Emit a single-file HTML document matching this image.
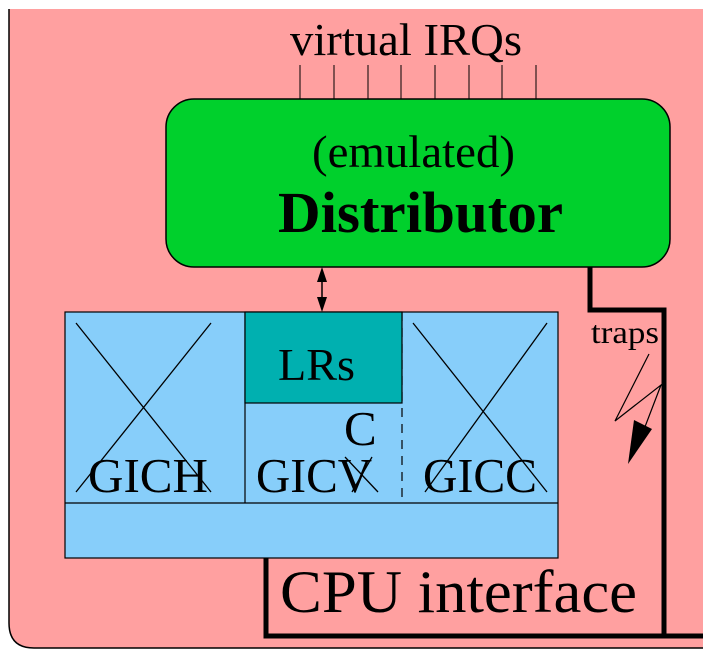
<!DOCTYPE html>
<html><head><meta charset="utf-8"><style>
html,body{margin:0;padding:0;background:#fff;}
svg{display:block;}
text{font-family:"Liberation Serif",serif;fill:#000;}
</style></head><body>
<svg width="712" height="660" viewBox="0 0 712 660" xmlns="http://www.w3.org/2000/svg">
<path d="M9,9 H703 V648 H34 Q9,648 9,623 Z" fill="#ffa0a0"/>
<path d="M9,9 V623 Q9,648 34,648 H703" fill="none" stroke="#000" stroke-width="1.5"/>
<g stroke="#000" stroke-width="1">
<line x1="300" y1="65" x2="300" y2="99"/><line x1="334" y1="65" x2="334" y2="99"/>
<line x1="368" y1="65" x2="368" y2="99"/><line x1="401" y1="65" x2="401" y2="99"/>
<line x1="435" y1="65" x2="435" y2="99"/><line x1="469" y1="65" x2="469" y2="99"/>
<line x1="502" y1="65" x2="502" y2="99"/><line x1="536" y1="65" x2="536" y2="99"/>
</g>
<text x="290" y="55" font-size="46" textLength="232" lengthAdjust="spacingAndGlyphs">virtual IRQs</text>
<rect x="166" y="99" width="504" height="168" rx="28" fill="#00d02c" stroke="#000" stroke-width="1.5"/>
<text x="312" y="167" font-size="46" textLength="203" lengthAdjust="spacingAndGlyphs">(emulated)</text>
<text x="278" y="232" font-size="58" font-weight="bold" textLength="285" lengthAdjust="spacingAndGlyphs">Distributor</text>
<path d="M590,267 V310 H664 V636 H703" fill="none" stroke="#000" stroke-width="5"/>
<path d="M266,558 V636 H666" fill="none" stroke="#000" stroke-width="5"/>
<text x="280" y="612" font-size="60" textLength="357" lengthAdjust="spacingAndGlyphs">CPU interface</text>
<text x="591" y="343" font-size="32" textLength="68" lengthAdjust="spacingAndGlyphs">traps</text>
<path d="M649,354 L615,421 L661,385 L643,432" fill="none" stroke="#000" stroke-width="1.2"/>
<path d="M628,464 L634,420 L652,429 Z" fill="#000"/>
<line x1="322" y1="278" x2="322" y2="302" stroke="#000" stroke-width="1.5"/>
<path d="M322,267 L317,282 L327,282 Z M322,312 L317,297 L327,297 Z" fill="#000"/>
<rect x="65" y="312" width="493" height="246" fill="#87cefa" stroke="#000" stroke-width="1.2"/>
<line x1="65" y1="503" x2="558" y2="503" stroke="#000" stroke-width="1.2"/>
<line x1="245" y1="312" x2="245" y2="503" stroke="#000" stroke-width="1.2"/>
<line x1="402" y1="312" x2="402" y2="503" stroke="#000" stroke-width="1.2" stroke-dasharray="9,7"/>
<rect x="245" y="312" width="157" height="91" fill="#00b0b0" stroke="#000" stroke-width="1.2"/>
<text x="278" y="380" font-size="46" textLength="77" lengthAdjust="spacingAndGlyphs">LRs</text>
<g stroke="#000" stroke-width="1.3">
<line x1="76" y1="323" x2="211" y2="492"/><line x1="211" y1="323" x2="76" y2="492"/>
<line x1="413" y1="323" x2="547" y2="492"/><line x1="547" y1="323" x2="425" y2="492"/>
<line x1="345" y1="457" x2="378" y2="492"/><line x1="372" y1="457" x2="352" y2="492"/>
</g>
<text x="88" y="492" font-size="49" textLength="120" lengthAdjust="spacingAndGlyphs">GICH</text>
<text x="256" y="492" font-size="49" textLength="116" lengthAdjust="spacingAndGlyphs">GICV</text>
<text x="423" y="492" font-size="49" textLength="114" lengthAdjust="spacingAndGlyphs">GICC</text>
<text x="344" y="445" font-size="49">C</text>
</svg>
</body></html>
